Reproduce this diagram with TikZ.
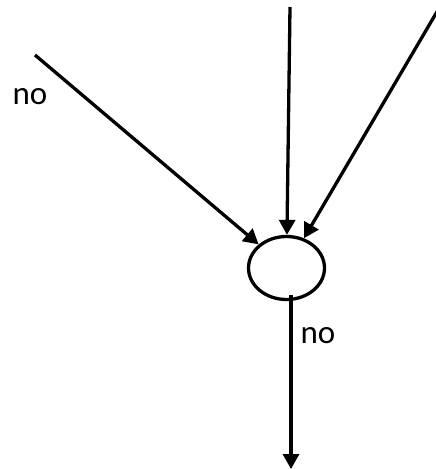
\documentclass[tikz,border=0pt]{standalone}
\usepackage{fontspec}
\setmainfont{Carlito}
\usetikzlibrary{arrows.meta,shapes.geometric}

\begin{document}
\begin{tikzpicture}[x=1pt,y=-1pt,
  flow/.style={line width=3.3pt,-{Triangle[length=15pt,width=16pt]}},
  mergenode/.style={ellipse,draw,line width=3.3pt,minimum width=76pt,minimum height=63pt,inner sep=0pt},
  lbl/.style={font=\fontsize{33}{40}\selectfont,inner sep=0pt}]
  \useasboundingbox (0,0) rectangle (436,469);
  % ---- merge point
  \node[mergenode] (merge) at (286.5,268) {};
  % ---- incoming ends
  \coordinate (inL) at (35,55);
  \coordinate (inT) at (290,7);
  \coordinate (inR) at (438,10);
  \coordinate (outS) at (291,295);
  \coordinate (outE) at (291,469);
  \draw[flow] (inL) -- (merge);
  \draw[flow] (inT) -- (merge);
  \draw[flow] (inR) -- (merge);
  \draw[flow] (outS) -- (outE);
  % ---- labels
  \node[lbl] (noL) at (30,97) {no};
  \node[lbl] (noB) at (318,336) {no};
\end{tikzpicture}
\end{document}
